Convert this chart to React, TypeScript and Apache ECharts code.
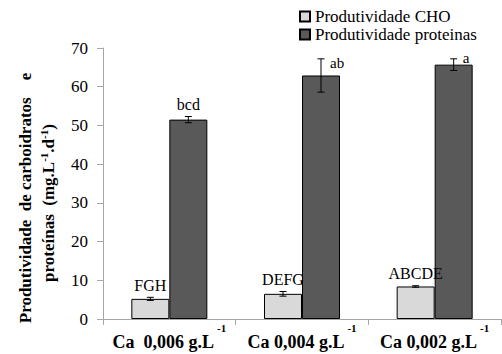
import React, { useEffect, useRef } from "react";
import * as echarts from "echarts";

const categories = ["Ca  0,006 g.L", "Ca 0,004 g.L", "Ca 0,002 g.L"];
const choValues = [5.2, 6.5, 8.4];
const choErrors = [0.4, 0.6, 0.2];
const choLetters = ["FGH", "DEFG", "ABCDE"];
const protValues = [51.5, 62.9, 65.7];
const protErrors = [0.8, 4.3, 1.5];
const protLetters = ["bcd", "ab", "a"];
const protLetterSide = ["top", "right", "right"];
const yTicks = { min: 0, max: 70, interval: 10 };

const SERIF = "Liberation Serif";
const BAR_W = 38;

function makeErrSeries(values: number[], errors: number[], letters: string[], side: number, placement: string[]) {
  return {
    type: "custom",
    z: 10,
    silent: true,
    data: values.map((v, i) => [i, v, errors[i]]),
    encode: { x: 0, y: 1 },
    renderItem: (params: any, api: any) => {
      const idx = api.value(0);
      const val = api.value(1);
      const err = api.value(2);
      const c = api.coord([idx, val]);
      const cx = c[0] + side * (BAR_W / 2);
      const top = api.coord([idx, val + err])[1];
      const bot = api.coord([idx, val - err])[1];
      const cap = 3.5;
      const ls = { stroke: "#000", lineWidth: 1 };
      const place = placement[params.dataIndex] || "top";
      const right = place === "right";
      const txt = {
        type: "text",
        x: right ? cx + 9 : cx,
        y: right ? top + (err > 3 ? 4 : -1) : top - 12,
        style: {
          text: letters[params.dataIndex],
          align: right ? "left" : "center",
          verticalAlign: "middle",
          fontFamily: SERIF,
          fontSize: right ? 15 : 16,
          fill: "#000",
        },
      };
      return {
        type: "group",
        children: [
          { type: "line", shape: { x1: cx, y1: top, x2: cx, y2: bot }, style: ls },
          { type: "line", shape: { x1: cx - cap, y1: top, x2: cx + cap, y2: top }, style: ls },
          { type: "line", shape: { x1: cx - cap, y1: bot, x2: cx + cap, y2: bot }, style: ls },
          txt,
        ],
      };
    },
  };
}

export default function App() {
  const ref = useRef<HTMLDivElement>(null);
  useEffect(() => {
    if (!ref.current) return;
    const chart = echarts.init(ref.current, undefined, { renderer: "svg" });
    chart.setOption({
      animation: false,
      backgroundColor: "#fff",
      grid: { left: 103, right: 1, top: 48, bottom: 35 },
      legend: {
        orient: "vertical",
        left: 294,
        top: 3,
        itemWidth: 10,
        itemHeight: 10,
        itemGap: 1,
        data: ["Produtividade CHO", "Produtividade proteinas"],
        textStyle: { fontFamily: SERIF, fontSize: 17, color: "#000" },
        icon: "rect",
      },
      xAxis: {
        type: "category",
        data: categories,
        axisLine: { lineStyle: { color: "#a6a6a6" } },
        axisTick: { show: true, length: 6, lineStyle: { color: "#a6a6a6" } },
        axisLabel: {
          interval: 0,
          margin: 3,
          formatter: (v: string) => `{a|${v}}{s|-1}`,
          rich: {
            a: { fontFamily: SERIF, fontSize: 18, fontWeight: "bold", color: "#000" },
            s: { fontFamily: SERIF, fontSize: 11, fontWeight: "bold", color: "#000", padding: [0, 0, 28, 3] },
          },
        },
      },
      yAxis: {
        type: "value",
        min: yTicks.min,
        max: yTicks.max,
        interval: yTicks.interval,
        axisLine: { show: true, lineStyle: { color: "#a6a6a6" } },
        axisTick: { show: true, length: 6, lineStyle: { color: "#a6a6a6" } },
        splitLine: { show: false },
        axisLabel: { margin: 15, fontFamily: SERIF, fontSize: 17, color: "#000" },
      },
      graphic: [
        {
          type: "text",
          x: 25,
          y: 198,
          rotation: Math.PI / 2,
          style: {
            text: "Produtividade  de carboidratos    e",
            fontFamily: SERIF,
            fontSize: 17,
            fontWeight: "bold",
            fill: "#000",
            align: "center",
            verticalAlign: "middle",
          },
        },
        {
          type: "text",
          x: 48,
          y: 203,
          rotation: Math.PI / 2,
          style: {
            text: "{a|proteínas  (mg.L}{s|-1}{a|.d}{s|-1}{a|)}",
            align: "center",
            verticalAlign: "middle",
            rich: {
              a: { fontFamily: SERIF, fontSize: 17, fontWeight: "bold", fill: "#000" },
              s: { fontFamily: SERIF, fontSize: 11, fontWeight: "bold", fill: "#000", padding: [0, 0, 8, 0] },
            },
          },
        },
      ],
      series: [
        {
          name: "Produtividade CHO",
          type: "bar",
          data: choValues,
          barWidth: BAR_W,
          barGap: "0%",
          itemStyle: { color: "#d9d9d9", borderColor: "#000", borderWidth: 1 },
        },
        {
          name: "Produtividade proteinas",
          type: "bar",
          data: protValues,
          barWidth: BAR_W,
          barGap: "0%",
          itemStyle: { color: "#595959", borderColor: "#000", borderWidth: 1 },
        },
        makeErrSeries(choValues, choErrors, choLetters, -1, ["top", "top", "top"]),
        makeErrSeries(protValues, protErrors, protLetters, 1, protLetterSide),
      ],
    });
    return () => chart.dispose();
  }, []);
  return <div ref={ref} style={{ width: 502, height: 354, position: "absolute", left: 0, top: 0 }} />;
}
